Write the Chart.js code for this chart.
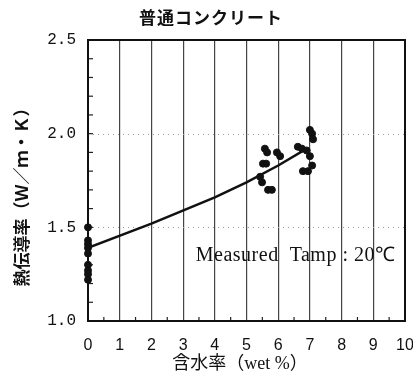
<!DOCTYPE html>
<html>
<head>
<meta charset="utf-8">
<script src="https://cdn.jsdelivr.net/npm/chart.js@4"></script>
<style>
  body { margin: 0; background: #fff; }
  canvas { display: block; }
</style>
</head>
<body>
<canvas id="chart" width="413" height="377"></canvas>
<script>
const titleText = "普通コンクリート";
const xTitle = "含水率（wet %）";
const yTitle = "熱伝導率（Ｗ／ｍ・Ｋ）";
const noteText = "Measured  Tamp : 20℃";

const xTicks = [0, 1, 2, 3, 4, 5, 6, 7, 8, 9, 10];
const yTicks = [1.0, 1.5, 2.0, 2.5];

// measured points (moisture wet%, conductivity W/mK)
const moisture = [0, 0, 0, 0, 0, 0, 0, 0, 0,
  5.58, 5.65, 5.96, 6.06, 5.52, 5.62, 5.43, 5.49, 5.68, 5.80,
  6.62, 6.75, 6.90, 7.00, 7.07, 7.10, 7.00, 7.07, 6.78, 6.94];
const conductivity = [1.50, 1.43, 1.41, 1.39, 1.36, 1.30, 1.27, 1.25, 1.22,
  1.92, 1.90, 1.90, 1.88, 1.84, 1.84, 1.77, 1.74, 1.70, 1.70,
  1.93, 1.92, 1.91, 2.02, 2.00, 1.97, 1.88, 1.83, 1.80, 1.80];

// fitted curve
const fitX = [0, 2, 4, 5, 6, 6.9];
const fitY = [1.39, 1.52, 1.66, 1.74, 1.83, 1.92];

const points = moisture.map((x, i) => ({ x, y: conductivity[i] }));
const fit = fitX.map((x, i) => ({ x, y: fitY[i] }));

const decor = {
  id: "decor",
  beforeDatasetsDraw(chart) {
    const { ctx, chartArea: a, scales: { x, y } } = chart;
    ctx.save();
    // dotted horizontal guides
    ctx.strokeStyle = "#999";
    ctx.lineWidth = 1;
    ctx.setLineDash([1, 4]);
    [1.5, 2.0].forEach(v => {
      const py = Math.round(y.getPixelForValue(v)) + 0.5;
      ctx.beginPath();
      ctx.moveTo(a.left, py);
      ctx.lineTo(a.right, py);
      ctx.stroke();
    });
    ctx.setLineDash([]);
    // minor ticks
    ctx.strokeStyle = "#222";
    ctx.lineWidth = 1.2;
    for (let v = 1.1; v < 2.5; v += 0.1) {
      const py = y.getPixelForValue(v);
      ctx.beginPath();
      ctx.moveTo(a.left, py);
      ctx.lineTo(a.left + 5, py);
      ctx.stroke();
    }
    for (let v = 0.5; v < 10; v += 1) {
      const px = x.getPixelForValue(v);
      ctx.beginPath();
      ctx.moveTo(px, a.bottom);
      ctx.lineTo(px, a.bottom - 4);
      ctx.stroke();
    }
    // frame
    ctx.strokeStyle = "#111";
    ctx.lineWidth = 2;
    ctx.strokeRect(a.left, a.top, a.right - a.left, a.bottom - a.top);
    ctx.restore();
  },
  afterDraw(chart) {
    const { ctx, scales: { x, y } } = chart;
    ctx.save();
    ctx.fillStyle = "#111";
    ctx.textAlign = "center";
    ctx.textBaseline = "middle";
    ctx.font = "bold 17px 'Noto Sans CJK JP'";
    ctx.letterSpacing = "1px";
    ctx.fillText(titleText, 211, 18);
    ctx.letterSpacing = "0px";
    ctx.font = "18px 'Liberation Serif', 'Noto Sans CJK JP'";
    ctx.fillText(xTitle, 240, 364);
    ctx.save();
    ctx.translate(22, 193);
    ctx.rotate(-Math.PI / 2);
    ctx.font = "bold 17px 'Noto Sans CJK JP'";
    ctx.fillText(yTitle, 0, 0);
    ctx.restore();
    ctx.textAlign = "left";
    ctx.font = "20px 'Liberation Serif'";
    ctx.letterSpacing = "0.5px";
    ctx.fillText(noteText, x.getPixelForValue(3.4), y.getPixelForValue(1.35));
    ctx.restore();
  }
};

new Chart(document.getElementById("chart"), {
  type: "scatter",
  data: {
    datasets: [
      {
        data: points,
        backgroundColor: "#111",
        borderColor: "#111",
        pointRadius: 3.5,
        pointHoverRadius: 3.5,
        clip: false
      },
      {
        data: fit,
        showLine: true,
        borderColor: "#111",
        borderWidth: 2.5,
        pointRadius: 0,
        fill: false
      }
    ]
  },
  options: {
    responsive: false,
    animation: false,
    layout: { padding: { left: 0, top: 40, right: 8, bottom: 0 } },
    plugins: {
      legend: { display: false },
      tooltip: { enabled: false }
    },
    scales: {
      x: {
        type: "linear",
        min: 0,
        max: 10,
        afterBuildTicks: s => { s.ticks = xTicks.map(v => ({ value: v })); },
        afterFit: s => { s.height = 56; s.paddingLeft = 0; s.paddingRight = 0; },
        grid: { color: "#444", lineWidth: 1.2, drawTicks: false },
        border: { display: false },
        ticks: {
          padding: 15,
          color: "#111",
          font: { family: "'Liberation Sans'", size: 16 }
        }
      },
      y: {
        type: "linear",
        min: 1.0,
        max: 2.5,
        afterBuildTicks: s => { s.ticks = yTicks.map(v => ({ value: v })); },
        afterFit: s => { s.width = 88; s.paddingTop = 0; s.paddingBottom = 0; },
        grid: { display: false, drawTicks: false },
        border: { display: false },
        ticks: {
          padding: 12,
          color: "#111",
          font: { family: "'Liberation Mono'", size: 16 },
          callback: v => v.toFixed(1)
        }
      }
    }
  },
  plugins: [decor]
});
</script>
</body>
</html>
